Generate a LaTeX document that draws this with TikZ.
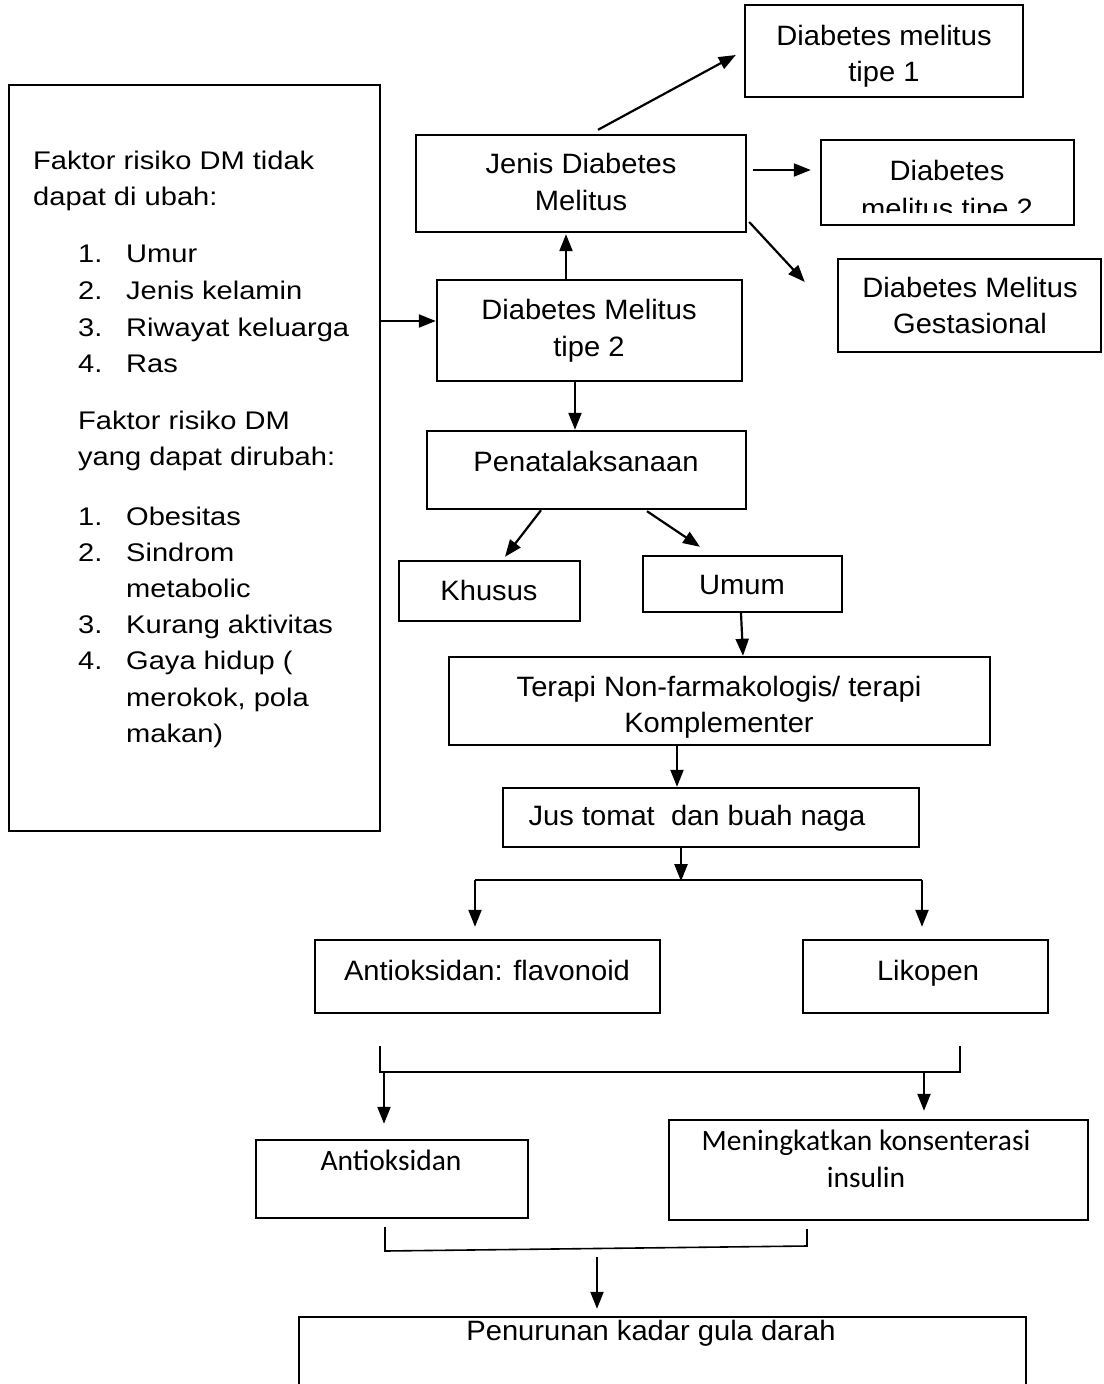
\documentclass[tikz,border=0pt]{standalone}
\usepackage{fontspec}
\usetikzlibrary{arrows.meta,calc}
\newfontfamily\arialf[FakeStretch=1.04]{Liberation Sans}
\newfontfamily\riskf[FakeStretch=1.14]{Liberation Sans}
\newfontfamily\calf{Carlito}
\tikzset{
  box/.style={draw=black, line width=2.4pt, rectangle, inner sep=0pt},
  txt/.style={font=\arialf\fontsize{28}{34}\selectfont, inner sep=0pt, anchor=base},
  rtxt/.style={font=\riskf\fontsize{25.5}{31}\selectfont, inner sep=0pt, anchor=base west},
  ctxt/.style={font=\calf\fontsize{29.5}{35}\selectfont, inner sep=0pt, anchor=base},
  arr/.style={line width=2.2pt, -{Triangle[length=17pt,width=13pt]}},
  brk/.style={line width=1.6pt}
}
\begin{document}
\begin{tikzpicture}[x=1pt,y=-1pt]
\useasboundingbox (0,0) rectangle (1103,1384);
\clip (0,0) rectangle (1103,1384);
\fill[white] (0,0) rectangle (1103,1384);

% boxes (centre, size)
\node[box, minimum width=278pt, minimum height=92pt]  (t1)     at (884,51)     {};
\node[box, minimum width=330pt, minimum height=97pt]  (jenis)  at (581,183.5)  {};
\node[box, minimum width=253pt, minimum height=85pt]  (t2r)    at (947.5,182.5){};
\node[box, minimum width=263pt, minimum height=93pt]  (gest)   at (969.5,305.5){};
\node[box, minimum width=305pt, minimum height=101pt] (dm2)    at (589.5,330.5){};
\node[box, minimum width=371pt, minimum height=746pt] (risk)   at (194.5,458)  {};
\node[box, minimum width=319pt, minimum height=78pt]  (pen)    at (586.5,470)  {};
\node[box, minimum width=181pt, minimum height=60pt]  (khusus) at (489.5,591)  {};
\node[box, minimum width=199pt, minimum height=56pt]  (umum)   at (742.5,584)  {};
\node[box, minimum width=541pt, minimum height=88pt]  (terapi) at (719.5,701)  {};
\node[box, minimum width=416pt, minimum height=59pt]  (jus)    at (711,817.5)  {};
\node[box, minimum width=345pt, minimum height=73pt]  (flav)   at (487.5,976.5){};
\node[box, minimum width=245pt, minimum height=73pt]  (liko)   at (925.5,976.5){};
\node[box, minimum width=272pt, minimum height=78pt]  (antiok) at (392,1179)   {};
\node[box, minimum width=419pt, minimum height=100pt] (mening) at (878.5,1170) {};
\node[box, minimum width=727pt, minimum height=90pt]  (turun)  at (662.5,1362) {};

% texts
\node[txt] (t1a) at (884,45) {Diabetes melitus};
\node[txt] (t1b) at (884,81) {tipe 1};
\node[txt] (jea) at (581,173) {Jenis Diabetes};
\node[txt] (jeb) at (581,210) {Melitus};
\node[txt] (t2a) at (947,180) {Diabetes};
\begin{scope}
\clip (821,140) rectangle (1074,212);
\node[txt] (t2b) at (947,218) {melitus tipe 2};
\end{scope}
\node[txt] (gea) at (970,297) {Diabetes Melitus};
\node[txt] (geb) at (970,333) {Gestasional};
\node[txt] (dma) at (589,319) {Diabetes Melitus};
\node[txt] (dmb) at (589,356) {tipe 2};
\node[txt] (pena) at (586,471) {Penatalaksanaan};
\node[txt] (khua) at (489,600) {Khusus};
\node[txt] (umua) at (742,594) {Umum};
\node[txt] (tea) at (719,696) {Terapi Non-farmakologis/ terapi};
\node[txt] (teb) at (719,732) {Komplementer};
\node[txt] (jua) at (697,825) {Jus tomat\ \ dan buah naga};
\node[txt] (fla) at (487,980) {Antioksidan: flavonoid};
\node[txt] (lia) at (928,980) {Likopen};
\node[ctxt] (ana) at (391,1170) {Antioksidan};
\node[ctxt] (mea) at (866,1150) {Meningkatkan konsenterasi};
\node[ctxt] (meb) at (866,1187) {insulin};
\node[txt] (tua) at (651,1340) {Penurunan kadar gula darah};

% risk factors text
\node[rtxt] (r1) at (33,169) {Faktor risiko DM tidak};
\node[rtxt] (r2) at (33,205) {dapat di ubah:};
\node[rtxt] (r3n) at (78,262) {1.};  \node[rtxt] (r3) at (126,262) {Umur};
\node[rtxt] (r4n) at (78,299) {2.};  \node[rtxt] (r4) at (126,299) {Jenis kelamin};
\node[rtxt] (r5n) at (78,336) {3.};  \node[rtxt] (r5) at (126,336) {Riwayat keluarga};
\node[rtxt] (r6n) at (78,372) {4.};  \node[rtxt] (r6) at (126,372) {Ras};
\node[rtxt] (r7) at (78,429) {Faktor risiko DM};
\node[rtxt] (r8) at (78,465) {yang dapat dirubah:};
\node[rtxt] (r9n) at (78,525) {1.};  \node[rtxt] (r9) at (126,525) {Obesitas};
\node[rtxt] (r10n) at (78,561) {2.}; \node[rtxt] (r10) at (126,561) {Sindrom};
\node[rtxt] (r11) at (126,597) {metabolic};
\node[rtxt] (r12n) at (78,633) {3.}; \node[rtxt] (r12) at (126,633) {Kurang aktivitas};
\node[rtxt] (r13n) at (78,669) {4.}; \node[rtxt] (r13) at (126,669) {Gaya hidup (};
\node[rtxt] (r14) at (126,706) {merokok, pola};
\node[rtxt] (r15) at (126,742) {makan)};

% connectors
\draw[arr] ($(jenis.north)+(17,-4)$) -- ($(t1.west)+(-8,4)$);
\draw[arr] ($(jenis.east)+(6,-13.5)$) -- ($(t2r.west)+(-9,-12.5)$);
\draw[arr] ($(jenis.east)+(2,38.5)$) -- ($(gest.west)+(-32,-23.5)$);
\draw[arr] ($(dm2.north)+(-23.5,0)$) -- ($(jenis.south)+(-15,1)$);
\draw[arr] ($(risk.east)+(0,-137)$) -- ($(dm2.west)+(0,-9.5)$);
\draw[arr] ($(dm2.south)+(-14.5,0)$) -- ($(pen.north)+(-11.5,0)$);
\draw[arr] ($(pen.south)+(-45.5,0)$) -- ($(khusus.north)+(15.5,-3)$);
\draw[arr] ($(pen.south)+(60.5,1)$) -- ($(umum.north)+(-42.5,-8)$);
\draw[arr] ($(umum.south)+(-1.5,0)$) -- ($(terapi.north)+(23.5,0)$);
\draw[arr] ($(terapi.south)+(-42.5,0)$) -- ($(jus.north)+(-34,0)$);

\coordinate (split) at ($(jus.south)+(-30,33)$);
\coordinate (sl) at (475,880);
\coordinate (sr) at (922,880);
\draw[arr] ($(jus.south)+(-30,0)$) -- (split);
\draw[brk] (sl) -- (sr);
\draw[arr] (sl) -- ($(flav.north)+(-12.5,-12)$);
\draw[arr] (sr) -- ($(liko.north)+(-3.5,-12)$);

\coordinate (b1l) at (380,1072);
\coordinate (b1r) at (960,1072);
\draw[brk] ($(flav.south)+(-107.5,32)$) -- (b1l) -- (b1r) -- ($(liko.south)+(34.5,32)$);
\draw[arr] (384,1072) -- ($(antiok.north)+(-8,-15)$);
\draw[arr] (924,1072) -- ($(mening.north)+(45.5,-8)$);

\coordinate (b2l) at (385,1251);
\coordinate (b2r) at (807,1246);
\draw[brk] ($(antiok.south)+(-7,8)$) -- (b2l) -- (b2r) -- ($(mening.south)+(-71.5,8)$);
\coordinate (b2m) at (597,1257);
\draw[arr] (b2m) -- ($(turun.north)+(-65.5,-7)$);
\end{tikzpicture}
\end{document}
